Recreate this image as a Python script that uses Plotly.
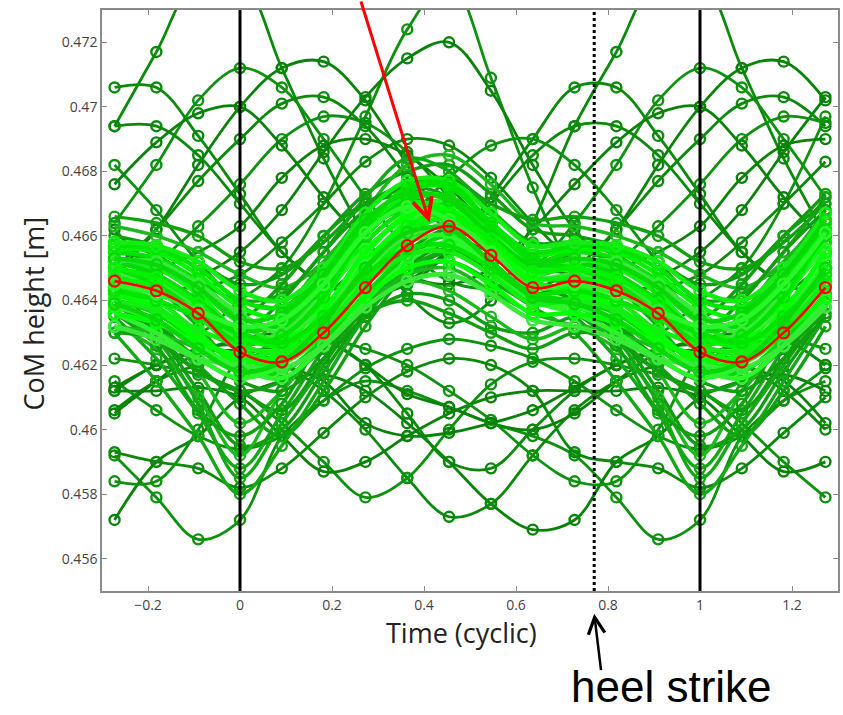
import plotly.graph_objects as go

# ---------------- data ----------------
# sample times of the gait cycle (11 samples per cycle, shown from -0.27 to 1.27)
time_cyclic = [-0.2727, -0.1818, -0.0909, 0.0, 0.0909, 0.1818, 0.2727, 0.3636,
               0.4545, 0.5455, 0.6364, 0.7273, 0.8182, 0.9091, 1.0, 1.0909,
               1.1818, 1.2727]
# which of the 11 cycle samples is displayed at each time above (cyclic data)
cycle_index = [8, 9, 10, 0, 1, 2, 3, 4, 5, 6, 7, 8, 9, 10, 0, 1, 2, 3]

# mean CoM height over the cycle (red)
mean_com = [0.4624, 0.4621, 0.4630, 0.4644, 0.4657, 0.4663, 0.4654, 0.4644, 0.4646, 0.4643, 0.4636]

# strides far from the mean (dark green)
outlier_strides = [
    [0.4740, 0.4712, 0.4684, 0.4660, 0.4642, 0.4633, 0.4640, 0.4664, 0.4694, 0.4717, 0.4740],
    [0.4640, 0.4650, 0.4670, 0.4697, 0.4724, 0.4739, 0.4709, 0.4675, 0.4648, 0.4632, 0.4630],
    [0.4655, 0.4668, 0.4686, 0.4703, 0.4715, 0.4720, 0.4705, 0.4682, 0.4662, 0.4650, 0.4648],
    [0.4673, 0.4655, 0.4645, 0.4642, 0.4646, 0.4656, 0.4672, 0.4690, 0.4706, 0.4706, 0.4691],
    [0.4712, 0.4706, 0.4690, 0.4672, 0.4656, 0.4646, 0.4644, 0.4650, 0.4664, 0.4682, 0.4702],
    [0.4700, 0.4712, 0.4714, 0.4702, 0.4682, 0.4662, 0.4648, 0.4642, 0.4648, 0.4662, 0.4682],
    [0.4690, 0.4701, 0.4703, 0.4694, 0.4678, 0.4660, 0.4648, 0.4644, 0.4650, 0.4662, 0.4677],
    [0.4676, 0.4690, 0.4697, 0.4695, 0.4686, 0.4672, 0.4658, 0.4648, 0.4646, 0.4652, 0.4663],
    [0.4663, 0.4678, 0.4688, 0.4690, 0.4685, 0.4675, 0.4662, 0.4652, 0.4648, 0.4650, 0.4655],
    [0.4670, 0.4655, 0.4645, 0.4642, 0.4645, 0.4655, 0.4670, 0.4685, 0.4694, 0.4694, 0.4685],
    [0.4640, 0.4638, 0.4642, 0.4652, 0.4665, 0.4678, 0.4688, 0.4690, 0.4682, 0.4668, 0.4652],
    [0.4700, 0.4688, 0.4672, 0.4658, 0.4648, 0.4645, 0.4650, 0.4662, 0.4676, 0.4689, 0.4698],
    [0.4648, 0.4658, 0.4670, 0.4683, 0.4690, 0.4688, 0.4678, 0.4664, 0.4652, 0.4645, 0.4644],
    [0.4572, 0.4598, 0.4609, 0.4615, 0.4612, 0.4607, 0.4602, 0.4598, 0.4592, 0.4579, 0.4566],
    [0.4610, 0.4615, 0.4617, 0.4612, 0.4602, 0.4590, 0.4577, 0.4569, 0.4572, 0.4590, 0.4598],
    [0.4622, 0.4620, 0.4612, 0.4600, 0.4585, 0.4573, 0.4577, 0.4592, 0.4606, 0.4615, 0.4620],
    [0.4612, 0.4602, 0.4590, 0.4579, 0.4585, 0.4600, 0.4614, 0.4621, 0.4622, 0.4620, 0.4617],
    [0.4610, 0.4598, 0.4587, 0.4590, 0.4598, 0.4605, 0.4610, 0.4612, 0.4612, 0.4612, 0.4613],
    [0.4582, 0.4588, 0.4599, 0.4610, 0.4618, 0.4622, 0.4620, 0.4612, 0.4593, 0.4590, 0.4588],
    [0.4594, 0.4598, 0.4609, 0.4619, 0.4625, 0.4628, 0.4626, 0.4622, 0.4615, 0.4606, 0.4598],
    [0.4628, 0.4630, 0.4628, 0.4620, 0.4611, 0.4607, 0.4602, 0.4600, 0.4605, 0.4615, 0.4624],
    [0.4625, 0.4630, 0.4628, 0.4620, 0.4605, 0.4590, 0.4588, 0.4600, 0.4612, 0.4620, 0.4624],
    [0.4622, 0.4626, 0.4628, 0.4625, 0.4620, 0.4612, 0.4603, 0.4592, 0.4584, 0.4584, 0.4600],
    [0.4626, 0.4620, 0.4615, 0.4602, 0.4598, 0.4599, 0.4602, 0.4606, 0.4613, 0.4620, 0.4625],
]

# strides at the edge of the main bundle (medium green)
fan_strides = [
    [0.4588, 0.4605, 0.4625, 0.4642, 0.4652, 0.4656, 0.4650, 0.4642, 0.4635, 0.4622, 0.4605],
    [0.4595, 0.4600, 0.4618, 0.4636, 0.4650, 0.4658, 0.4655, 0.4646, 0.4640, 0.4630, 0.4612],
    [0.4602, 0.4612, 0.4628, 0.4645, 0.4660, 0.4666, 0.4658, 0.4648, 0.4645, 0.4635, 0.4618],
    [0.4608, 0.4598, 0.4612, 0.4632, 0.4648, 0.4655, 0.4650, 0.4640, 0.4638, 0.4632, 0.4620],
    [0.4580, 0.4595, 0.4615, 0.4635, 0.4648, 0.4652, 0.4646, 0.4638, 0.4630, 0.4615, 0.4598],
    [0.4612, 0.4606, 0.4622, 0.4640, 0.4655, 0.4662, 0.4656, 0.4645, 0.4640, 0.4628, 0.4618],
    [0.4592, 0.4612, 0.4628, 0.4640, 0.4648, 0.4650, 0.4643, 0.4636, 0.4632, 0.4625, 0.4610],
    [0.4598, 0.4608, 0.4630, 0.4646, 0.4655, 0.4657, 0.4650, 0.4640, 0.4636, 0.4626, 0.4606],
    [0.4585, 0.4602, 0.4620, 0.4638, 0.4650, 0.4655, 0.4648, 0.4640, 0.4636, 0.4628, 0.4608],
    [0.4645, 0.4648, 0.4660, 0.4673, 0.4680, 0.4682, 0.4673, 0.4662, 0.4660, 0.4657, 0.4652],
    [0.4648, 0.4644, 0.4652, 0.4668, 0.4682, 0.4685, 0.4676, 0.4664, 0.4663, 0.4660, 0.4655],
    [0.4652, 0.4650, 0.4658, 0.4670, 0.4676, 0.4678, 0.4670, 0.4665, 0.4666, 0.4664, 0.4660],
    [0.4640, 0.4642, 0.4655, 0.4672, 0.4684, 0.4680, 0.4668, 0.4658, 0.4658, 0.4654, 0.4646],
    [0.4630, 0.4640, 0.4655, 0.4668, 0.4675, 0.4672, 0.4660, 0.4650, 0.4650, 0.4645, 0.4638],
    [0.4625, 0.4636, 0.4652, 0.4665, 0.4670, 0.4668, 0.4658, 0.4650, 0.4652, 0.4648, 0.4636],
    [0.4635, 0.4645, 0.4660, 0.4670, 0.4672, 0.4666, 0.4656, 0.4650, 0.4655, 0.4652, 0.4645],
    [0.4620, 0.4632, 0.4648, 0.4662, 0.4668, 0.4665, 0.4655, 0.4648, 0.4650, 0.4644, 0.4632],
    [0.4615, 0.4612, 0.4622, 0.4635, 0.4642, 0.4640, 0.4632, 0.4630, 0.4635, 0.4632, 0.4622],
    [0.4620, 0.4618, 0.4628, 0.4640, 0.4646, 0.4643, 0.4635, 0.4628, 0.4632, 0.4630, 0.4625],
    [0.4612, 0.4615, 0.4625, 0.4636, 0.4640, 0.4636, 0.4630, 0.4625, 0.4630, 0.4628, 0.4618],
]

# strides close to the mean (bright green)
core_strides = [
    [0.4630, 0.4628, 0.4638, 0.4652, 0.4664, 0.4668, 0.4660, 0.4650, 0.4652, 0.4650, 0.4642],
    [0.4620, 0.4622, 0.4634, 0.4650, 0.4662, 0.4665, 0.4655, 0.4645, 0.4644, 0.4640, 0.4630],
    [0.4635, 0.4632, 0.4642, 0.4658, 0.4668, 0.4670, 0.4661, 0.4652, 0.4655, 0.4653, 0.4646],
    [0.4626, 0.4625, 0.4636, 0.4654, 0.4667, 0.4671, 0.4662, 0.4651, 0.4649, 0.4645, 0.4637],
    [0.4618, 0.4618, 0.4628, 0.4642, 0.4654, 0.4660, 0.4652, 0.4642, 0.4640, 0.4636, 0.4627],
    [0.4638, 0.4635, 0.4646, 0.4662, 0.4672, 0.4672, 0.4662, 0.4654, 0.4656, 0.4655, 0.4648],
    [0.4628, 0.4630, 0.4642, 0.4656, 0.4665, 0.4666, 0.4656, 0.4647, 0.4648, 0.4646, 0.4638],
    [0.4622, 0.4626, 0.4640, 0.4660, 0.4670, 0.4668, 0.4657, 0.4646, 0.4642, 0.4637, 0.4628],
    [0.4633, 0.4627, 0.4633, 0.4646, 0.4658, 0.4664, 0.4659, 0.4650, 0.4651, 0.4650, 0.4643],
    [0.4640, 0.4638, 0.4648, 0.4664, 0.4674, 0.4675, 0.4664, 0.4655, 0.4657, 0.4656, 0.4650],
    [0.4616, 0.4620, 0.4632, 0.4648, 0.4658, 0.4660, 0.4650, 0.4640, 0.4636, 0.4630, 0.4622],
    [0.4631, 0.4633, 0.4644, 0.4660, 0.4671, 0.4672, 0.4663, 0.4653, 0.4652, 0.4648, 0.4640],
    [0.4625, 0.4621, 0.4630, 0.4646, 0.4660, 0.4666, 0.4658, 0.4647, 0.4647, 0.4644, 0.4635],
    [0.4636, 0.4630, 0.4637, 0.4650, 0.4660, 0.4663, 0.4656, 0.4648, 0.4652, 0.4652, 0.4645],
    [0.4621, 0.4624, 0.4637, 0.4655, 0.4666, 0.4668, 0.4658, 0.4646, 0.4643, 0.4638, 0.4629],
    [0.4643, 0.4640, 0.4650, 0.4667, 0.4677, 0.4677, 0.4667, 0.4657, 0.4658, 0.4657, 0.4652],
    [0.4627, 0.4629, 0.4641, 0.4662, 0.4675, 0.4676, 0.4664, 0.4652, 0.4650, 0.4645, 0.4636],
    [0.4619, 0.4616, 0.4626, 0.4640, 0.4652, 0.4658, 0.4650, 0.4640, 0.4638, 0.4634, 0.4626],
    [0.4634, 0.4636, 0.4648, 0.4665, 0.4673, 0.4671, 0.4660, 0.4651, 0.4653, 0.4651, 0.4644],
    [0.4629, 0.4626, 0.4635, 0.4650, 0.4663, 0.4667, 0.4659, 0.4649, 0.4650, 0.4647, 0.4639],
    [0.4620, 0.4619, 0.4626, 0.4638, 0.4646, 0.4648, 0.4642, 0.4634, 0.4632, 0.4628, 0.4622],
    [0.4623, 0.4622, 0.4630, 0.4641, 0.4650, 0.4652, 0.4645, 0.4636, 0.4636, 0.4633, 0.4627],
    [0.4626, 0.4624, 0.4632, 0.4645, 0.4654, 0.4655, 0.4648, 0.4639, 0.4640, 0.4637, 0.4631],
    [0.4630, 0.4627, 0.4635, 0.4648, 0.4656, 0.4657, 0.4650, 0.4642, 0.4643, 0.4640, 0.4635],
    [0.4632, 0.4634, 0.4645, 0.4661, 0.4669, 0.4665, 0.4655, 0.4644, 0.4645, 0.4642, 0.4637],
    [0.4618, 0.4621, 0.4633, 0.4650, 0.4661, 0.4662, 0.4652, 0.4641, 0.4639, 0.4634, 0.4625],
]

cycle_lines = [0.0, 1.0]
heel_strike = 0.77

x_tick_vals = [-0.2, 0.0, 0.2, 0.4, 0.6, 0.8, 1.0, 1.2]
x_tick_text = ["\u22120.2", "0", "0.2", "0.4", "0.6", "0.8", "1", "1.2"]
y_tick_vals = [0.456, 0.458, 0.460, 0.462, 0.464, 0.466, 0.468, 0.470, 0.472]
y_tick_text = ["0.456", "0.458", "0.46", "0.462", "0.464", "0.466", "0.468", "0.47", "0.472"]

# ---------------- styles ----------------
outlier_colors = ["#0a8a0a", "#0d920d", "#088308"]
fan_colors = ["#14a814", "#0f9e0f", "#1cb81c", "#10a010"]
core_colors = ["#00ff00", "#14ec14", "#00e400", "#2af52a", "#08d808", "#00f400", "#3ae83a"]


def unroll(vals):
    return [vals[i] for i in cycle_index]


fig = go.Figure()


def add_group(strides, colors, width, msize, mwidth):
    for i, s in enumerate(strides):
        c = colors[i % len(colors)]
        fig.add_trace(go.Scatter(
            x=time_cyclic, y=unroll(s), mode="lines+markers",
            line=dict(color=c, width=width, shape="spline", smoothing=1.0),
            marker=dict(symbol="circle-open", size=msize, color=c, line=dict(width=mwidth, color=c)),
            showlegend=False, hoverinfo="skip"))


add_group(outlier_strides, outlier_colors, 2.8, 10, 2.4)
add_group(fan_strides, fan_colors, 3.4, 10, 2.4)
add_group(core_strides, core_colors, 4.6, 11, 2.6)

fig.add_trace(go.Scatter(
    x=time_cyclic, y=unroll(mean_com), mode="lines+markers",
    line=dict(color="#ff0000", width=2.6, shape="spline", smoothing=1.0),
    marker=dict(symbol="circle-open", size=11, color="#ff0000", line=dict(width=2.2, color="#ff0000")),
    showlegend=False, hoverinfo="skip"))

for xv in cycle_lines:
    fig.add_shape(type="line", xref="x", yref="paper", x0=xv, x1=xv, y0=0, y1=1,
                  line=dict(color="black", width=3), layer="above")
fig.add_shape(type="line", xref="x", yref="paper", x0=heel_strike, x1=heel_strike, y0=0, y1=1,
              line=dict(color="black", width=3, dash="3px,3px"), layer="above")

axis_common = dict(showline=True, mirror="ticks", ticks="inside", ticklen=5, tickwidth=1.2,
                   tickcolor="#8a8a8a", linecolor="#8a8a8a", linewidth=1.6,
                   showgrid=False, zeroline=False,
                   tickfont=dict(family="Open Sans", size=14, color="#444444"))

fig.update_layout(
    width=843, height=715,
    margin=dict(l=102, r=3, t=10, b=124),
    paper_bgcolor="white", plot_bgcolor="white",
    xaxis=dict(range=[-0.3, 1.3], tickvals=x_tick_vals, ticktext=x_tick_text, **axis_common),
    yaxis=dict(range=[0.455, 0.473], tickvals=y_tick_vals, ticktext=y_tick_text, **axis_common),
)

annotations = [
    dict(text="Time (cyclic)", xref="paper", yref="paper", x=0.489, y=-0.072,
         xanchor="center", yanchor="middle", showarrow=False,
         font=dict(family="Open Sans", size=27, color="#222222")),
    dict(text="CoM height [m]", xref="paper", yref="paper", x=-0.093, y=0.477,
         xanchor="center", yanchor="middle", showarrow=False, textangle=-90,
         font=dict(family="Open Sans", size=27, color="#222222")),
    dict(text="heel strike", xref="paper", yref="paper", x=0.774, y=-0.2095,
         xanchor="center", yanchor="bottom", showarrow=False,
         font=dict(family="Liberation Sans", size=44, color="black")),
    # arrow pointing at heel strike
    dict(text="", xref="x", yref="paper", x=heel_strike, y=-0.039, ax=7, ay=58,
         showarrow=True, arrowhead=5, arrowsize=1.3, arrowwidth=2.5, arrowcolor="black"),
    # red arrow pointing at the mean curve
    dict(text="", xref="x", yref="y", x=0.412, y=0.46642, ax=-69, ay=-223,
         showarrow=True, arrowhead=5, arrowsize=1.3, arrowwidth=3, arrowcolor="#ff0000"),
]
fig.update_layout(annotations=annotations)

fig.write_html("out.html")
